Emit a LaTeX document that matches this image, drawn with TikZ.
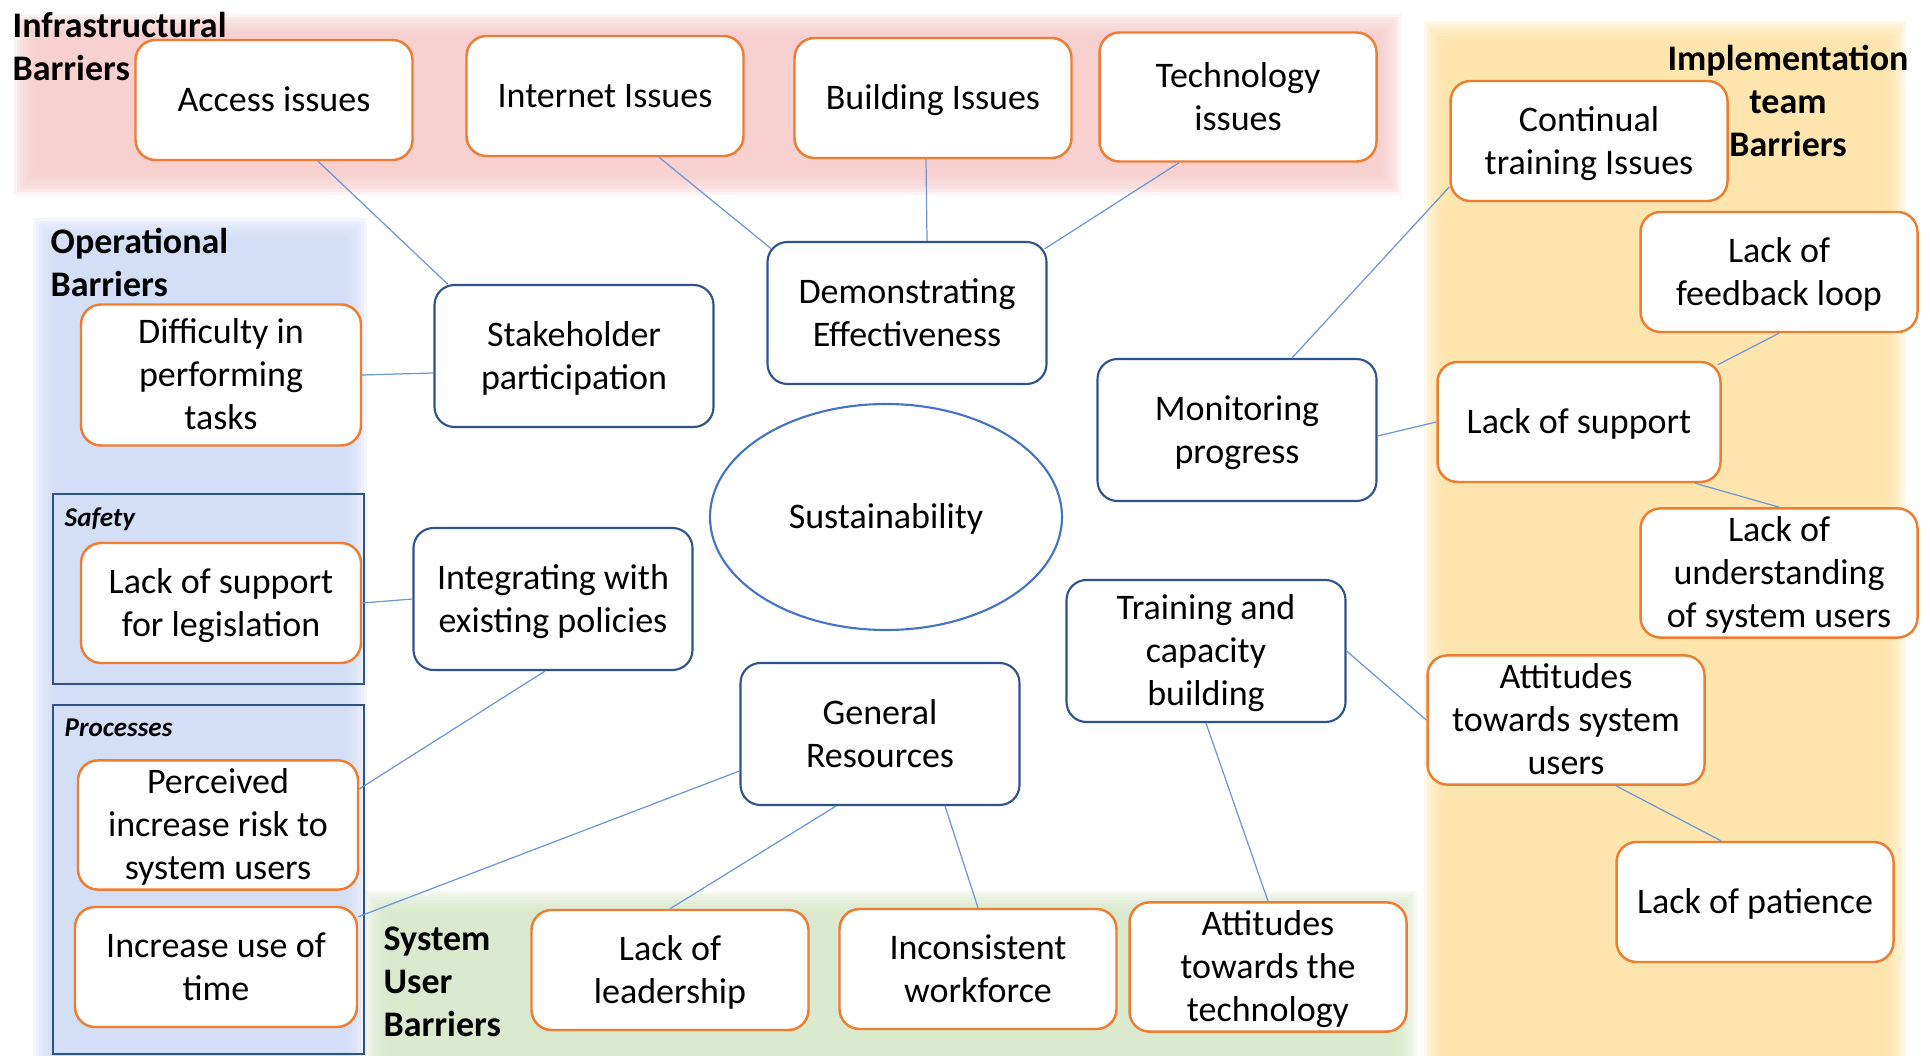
\documentclass[tikz,border=0pt]{standalone}
\usepackage{fontspec}
\setmainfont{Carlito}
\usepackage{tikz}
\usetikzlibrary{calc,shapes.geometric}

\definecolor{barorange}{HTML}{ED7D31}
\definecolor{themeblue}{HTML}{2F528F}
\definecolor{ringblue}{HTML}{4472C4}
\definecolor{linkblue}{HTML}{7096D6}
\definecolor{infrared}{HTML}{F8CCCC}
\definecolor{operblue}{HTML}{D0DCF6}
\definecolor{usergreen}{HTML}{D8E8CA}
\definecolor{teamyellow}{HTML}{FEE3A4}

\tikzset{
  boxtext/.style={text width=26mm, align=flush center,
    execute at begin node={\rule{0pt}{0.93em}},
    execute at end node={\rule[-0.27em]{0pt}{0.27em}}},
  issue/.style={draw=barorange, line width=0.7pt, rounded corners=2mm, fill=white, boxtext,
    inner sep=0pt, minimum width=27.7mm, minimum height=12mm},
  theme/.style={draw=themeblue, line width=0.6pt, rounded corners=2mm, fill=white, boxtext,
    inner sep=0pt, minimum width=27.9mm, minimum height=14.2mm},
  link/.style={draw=linkblue, line width=0.35pt},
  barrier/.style={font=\fontsize{10.24pt}{12.24pt}\selectfont\bfseries, inner sep=0pt},
  subgroup/.style={draw=themeblue, line width=0.6pt},
  subtitle/.style={font=\fontsize{7.7pt}{9pt}\selectfont\bfseries\itshape, inner sep=0pt, anchor=north west}
}

\begin{document}
\begin{tikzpicture}[x=0.1mm,y=-0.1mm,font=\fontsize{10.24pt}{12.24pt}\selectfont]
\useasboundingbox (0,0) rectangle (1930,1056);
\fill[white] (0,0) rectangle (1930,1056);

\foreach \k in {0,...,7}
  \fill[infrared, opacity=0.23] (14+3*\k,14+3*\k) rectangle (1401-3*\k,195-3*\k);
\foreach \k in {0,...,7}
  \fill[operblue, opacity=0.23] (33+3*\k,218+3*\k) rectangle (367-3*\k,1090);
\foreach \k in {0,...,7}
  \fill[usergreen, opacity=0.23] (365+3*\k,891+3*\k) rectangle (1417-3*\k,1090);
\foreach \k in {0,...,7}
  \fill[teamyellow, opacity=0.23] (1424+3*\k,21+3*\k) rectangle (1906-3*\k,1090);

\node[barrier, anchor=north west, align=left] (infralabel) at (12,12) {Infrastructural\\Barriers};
\node[barrier, anchor=north west, align=left] (operlabel) at (50,227) {Operational\\Barriers};
\node[barrier, anchor=north west, align=left] (userlabel) at (383,926) {System\\User\\Barriers};
\node[barrier, anchor=north, align=center] (teamlabel) at (1788,44) {Implementation\\team\\Barriers};

\draw[subgroup] (53,494) rectangle (364,684);
\draw[subgroup] (53,705) rectangle (364,1054);
\node[subtitle] (safetylabel) at (64,507) {Safety};
\node[subtitle] (processlabel) at (64,718) {Processes};

\node[draw=ringblue, line width=0.6pt, ellipse, boxtext, text width=22mm, minimum width=35.2mm, minimum height=22.6mm, inner sep=0pt] (sustain) at (886,517) {Sustainability};

\node[theme] (stake) at (574,356) {Stakeholder\\participation};
\node[theme] (demo) at (907,313) {Demonstrating\\Effectiveness};
\node[theme] (monitor) at (1237,430) {Monitoring\\progress};
\node[theme] (integ) at (553,599) {Integrating with\\existing policies};
\node[theme] (general) at (880,734) {General\\Resources};
\node[theme] (training) at (1206,651) {Training and\\capacity\\building};

\node[issue] (access) at (274,100) {Access issues};
\node[issue] (internet) at (605,96) {Internet Issues};
\node[issue] (building) at (933,98) {Building Issues};
\node[issue, minimum height=12.9mm] (tech) at (1238,97) {Technology\\issues};
\node[issue] (cont) at (1589,141) {Continual\\training Issues};
\node[issue] (feedback) at (1779,272) {Lack of\\feedback loop};
\node[issue, minimum width=28.3mm] (support) at (1579,422) {Lack of support};
\node[issue, minimum height=12.2mm] (underst) at (1779,573) {Lack of\\understanding\\of system users};
\node[issue] (attsys) at (1566,720) {Attitudes\\towards system\\users};
\node[issue] (patience) at (1755,902) {Lack of patience};
\node[issue] (atttech) at (1268,967) {Attitudes\\towards the\\technology};
\node[issue] (incons) at (978,969) {Inconsistent\\workforce};
\node[issue] (leader) at (670,970) {Lack of\\leadership};
\node[issue, minimum width=28.2mm] (usetime) at (216,967) {Increase use of\\time};
\node[issue, minimum width=28mm, minimum height=12.9mm] (risk) at (218,825) {Perceived\\increase risk to\\system users};
\node[issue, minimum width=28mm] (legis) at (221,603) {Lack of support\\for legislation};
\node[issue, minimum width=28mm, minimum height=14.1mm] (difficulty) at (221,375) {Difficulty in\\performing\\tasks};

\draw[link] ($(access.south)+(44,0)$) -- ($(stake.north west)+(14,0)$);
\draw[link] ($(internet.south)+(54,0)$) -- ($(demo.north west)+(5,8)$);
\draw[link] ($(building.south)+(-7,0)$) -- ($(demo.north)+(20,0)$);
\draw[link] ($(tech.south)+(-59,0)$) -- ($(demo.north east)+(-3,8)$);
\draw[link] ($(stake.west)+(0,17)$) -- (difficulty.east);
\draw[link] (integ.west) -- (legis.east);
\draw[link] ($(integ.south)+(-8,0)$) -- ($(risk.east)+(0,-36)$);
\draw[link] ($(general.west)+(0,37)$) -- ($(usetime.north east)+(0,11)$);
\draw[link] ($(general.south)+(-44,0)$) -- (leader.north);
\draw[link] ($(general.south)+(65,0)$) -- (incons.north);
\draw[link] (training.south) -- (atttech.north);
\draw[link] (training.east) -- (attsys.west);
\draw[link] ($(attsys.south)+(50,0)$) -- ($(patience.north)+(-34,0)$);
\draw[link] ($(monitor.north)+(55,0)$) -- ($(cont.west)+(0,46)$);
\draw[link] ($(monitor.east)+(0,6)$) -- (support.west);
\draw[link] ($(support.north east)+(-4,4)$) -- (feedback.south);
\draw[link] ($(support.south)+(116,0)$) -- (underst.north);
\end{tikzpicture}
\end{document}
